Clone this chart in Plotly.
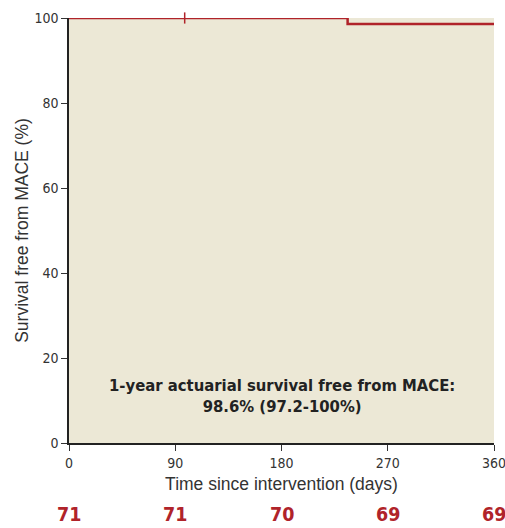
import plotly.graph_objects as go

# Data
step_days = [0, 236, 236, 360]
survival = [100, 100, 98.6, 98.6]
censor_days = [98]
censor_surv = [100]
risk_days = [0, 90, 180, 270, 360]
at_risk = [71, 71, 70, 69, 69]
x_ticks = [0, 90, 180, 270, 360]
y_ticks = [0, 20, 40, 60, 80, 100]

red = "#B0232A"
cond = "DejaVu Sans Condensed, Liberation Sans Narrow, Arial Narrow, sans-serif"
fig = go.Figure()
fig.add_trace(go.Scatter(x=step_days, y=survival, mode="lines", cliponaxis=False,
                         line=dict(color=red, width=2.5), hoverinfo="skip", showlegend=False))
fig.add_trace(go.Scatter(x=censor_days, y=censor_surv, mode="markers", cliponaxis=False,
                         marker=dict(symbol="line-ns", size=8, line=dict(color=red, width=1.5)),
                         hoverinfo="skip", showlegend=False))

tickfont = dict(family=cond, size=14, color="#333")
titlefont = dict(family="Liberation Sans, Arial, sans-serif", size=17.5, color="#333")
fig.update_xaxes(range=[0, 360], tickvals=x_ticks, ticks="outside", ticklen=6, tickcolor="#333",
                 showline=True, linecolor="#222", linewidth=1.5, showgrid=False, zeroline=False,
                 tickfont=tickfont, automargin=False, ticklabeloverflow="allow",
                 title=dict(text="Time since intervention (days)", standoff=8, font=titlefont))
fig.update_yaxes(range=[0, 100], tickvals=y_ticks, ticks="outside", ticklen=6, tickcolor="#333",
                 showline=True, linecolor="#222", linewidth=1.5, showgrid=False, zeroline=False,
                 tickfont=tickfont, automargin=False, ticklabeloverflow="allow",
                 title=dict(text="Survival free from MACE (%)", standoff=1, font=titlefont))

fig.add_annotation(x=180, y=11, xref="x", yref="y",
                   text="<b>1-year actuarial survival free from MACE:<br>98.6% (97.2-100%)</b>",
                   showarrow=False, align="center",
                   font=dict(family=cond, size=16.5, color="#222"))

for d, n in zip(risk_days, at_risk):
    fig.add_annotation(x=d, y=-0.169, xref="x", yref="paper", text=f"<b>{n}</b>",
                       showarrow=False, yanchor="middle",
                       font=dict(family=cond, size=19.5, color=red))

fig.update_layout(width=505, height=528, margin=dict(l=69, r=11, t=18, b=85),
                  plot_bgcolor="#ECE8D6", paper_bgcolor="white", hovermode=False)
fig.write_html("out.html", config={"displayModeBar": False},
               post_script="document.body.style.margin='0';document.body.style.overflow='hidden';")
